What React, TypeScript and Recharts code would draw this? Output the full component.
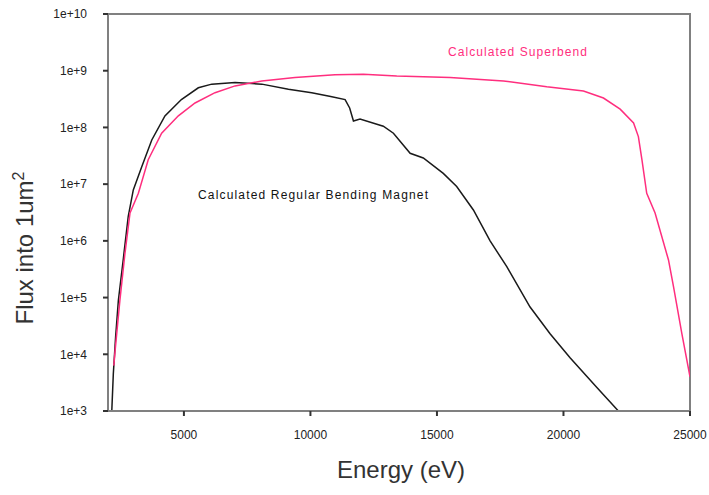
import React from "react";
import { LineChart, Line, XAxis, YAxis, ReferenceArea } from "recharts";

// Regular bending magnet (black)
const regularEnergy = [
  2150, 2210, 2300, 2410, 2600, 2800, 3000, 3330, 3730, 4250, 4900, 5570, 6100, 7020,
  8080, 9130, 10050, 10800, 11370, 11550, 11700, 11960, 12880, 13280, 13940, 14460,
  15250, 15780, 16440, 17100, 17760, 18680, 19470, 20260, 21320, 22170,
];
const regularFlux = [
  1.0e3, 4.5e3, 2.0e4, 8.9e4, 4.6e5, 2.7e6, 7.9e6, 2.0e7, 6.0e7, 1.6e8, 3.1e8, 5.0e8, 5.8e8, 6.2e8,
  5.8e8, 4.7e8, 4.1e8, 3.5e8, 3.1e8, 2.2e8, 1.3e8, 1.4e8, 1.05e8, 7.9e7, 3.5e7, 2.9e7,
  1.55e7, 9.1e6, 3.5e6, 1.0e6, 3.5e5, 6.8e4, 2.3e4, 8.7e3, 2.6e3, 1.0e3,
];

// Superbend (pink)
const superEnergy = [
  2230, 2280, 2470, 2670, 2870, 3200, 3590, 4120, 4780, 5440, 6230, 7020, 8080, 9390,
  10970, 12090, 13410, 15520, 17630, 19340, 20790, 21580, 22240, 22770, 22960, 23100,
  23290, 23620, 24150, 24350, 24680, 25000,
];
const superFlux = [
  6.3e3, 1.15e4, 8.9e4, 6.0e5, 3.1e6, 6.9e6, 2.7e7, 7.9e7, 1.6e8, 2.7e8, 4.1e8, 5.4e8, 6.6e8, 7.6e8,
  8.5e8, 8.7e8, 8.1e8, 7.6e8, 6.6e8, 5.2e8, 4.4e8, 3.3e8, 2.1e8, 1.2e8, 6.9e7, 2.7e7,
  6.9e6, 3.1e6, 4.6e5, 1.55e5, 2.3e4, 4.0e3,
];

const xTicks = [5000, 10000, 15000, 20000, 25000];
const yTicks = [1e3, 1e4, 1e5, 1e6, 1e7, 1e8, 1e9, 1e10];
const xDomain = [2000, 25000];
const yDomain = [1e3, 1e10];

const regularData = regularEnergy.map((x, i) => ({ x, y: regularFlux[i] }));
const superData = superEnergy.map((x, i) => ({ x, y: superFlux[i] }));

const FONT = "'Liberation Sans', Arial, sans-serif";
const PINK = "#ff2e7e";

export default function App() {
  return (
    <div style={{ position: "absolute", left: 0, top: 0, background: "#fff", fontFamily: FONT }}>
      <LineChart width={709} height={495} margin={{ top: 14, right: 19, bottom: 0, left: 0 }}>
        <XAxis
          type="number"
          dataKey="x"
          domain={xDomain}
          ticks={xTicks}
          allowDataOverflow
          height={84}
          stroke="#808080"
          strokeWidth={2}
          tickSize={5}
          tickMargin={14}
          tickLine={{ stroke: "#333" }}
          tick={{ fontSize: 12, fill: "#222", fontFamily: FONT }}
        />
        <YAxis
          type="number"
          dataKey="y"
          scale="log"
          domain={yDomain}
          ticks={yTicks}
          allowDataOverflow
          width={108}
          stroke="#808080"
          strokeWidth={2}
          tickSize={5}
          tickMargin={16}
          tickLine={{ stroke: "#333" }}
          tick={{ fontSize: 12, fill: "#222", fontFamily: FONT }}
          tickFormatter={(v: number) => `1e+${Math.round(Math.log10(v))}`}
        />
        <ReferenceArea
          x1={xDomain[0]}
          x2={xDomain[1]}
          y1={yDomain[0]}
          y2={yDomain[1]}
          fill="none"
          fillOpacity={0}
          stroke="#808080"
          strokeWidth={2}
        />
        <Line
          data={regularData}
          dataKey="y"
          type="linear"
          stroke="#1a1a1a"
          strokeWidth={1.5}
          dot={false}
          isAnimationActive={false}
        />
        <Line
          data={superData}
          dataKey="y"
          type="linear"
          stroke={PINK}
          strokeWidth={1.5}
          dot={false}
          isAnimationActive={false}
        />
        <text x={448} y={56} fontSize={12} fill={PINK} fontFamily={FONT} textLength={139} lengthAdjust="spacing">
          Calculated Superbend
        </text>
        <text x={198} y={199} fontSize={12} fill="#111" fontFamily={FONT} textLength={230} lengthAdjust="spacing">
          Calculated Regular Bending Magnet
        </text>
        <text x={401} y={478} fontSize={24} fill="#333" fontFamily={FONT} textAnchor="middle">
          Energy (eV)
        </text>
        <text
          x={33}
          y={248}
          fontSize={24}
          fill="#333"
          fontFamily={FONT}
          textAnchor="middle"
          transform="rotate(-90 33 248)"
        >
          Flux into 1um<tspan fontSize={16} dy={-9}>2</tspan>
        </text>
      </LineChart>
    </div>
  );
}
